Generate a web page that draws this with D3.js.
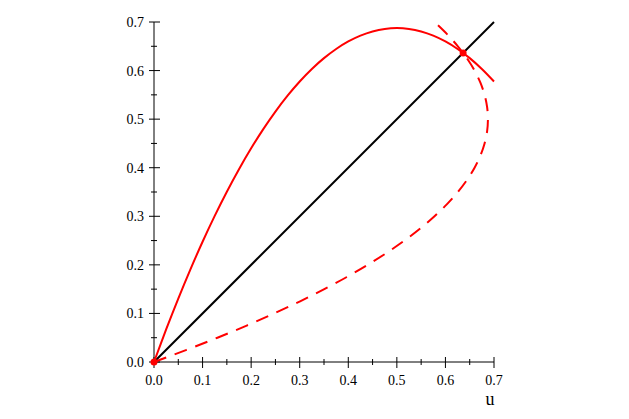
<!DOCTYPE html>
<html><head><meta charset="utf-8">
<script src="https://cdn.jsdelivr.net/npm/d3@7"></script>
<style>body{margin:0;background:#fff}svg{display:block}</style>
</head><body>
<script>
const uValues = [0,0.025,0.05,0.075,0.1,0.125,0.15,0.175,0.2,0.225,0.25,0.275,0.3,0.325,0.35,0.375,0.4,0.425,0.45,0.475,0.5,0.525,0.55,0.575,0.6,0.625,0.65,0.675,0.7];
const fValues = [0,0.0670,0.1306,0.1908,0.2475,0.3008,0.3506,0.3970,0.44,0.4795,0.5156,0.5483,0.5775,0.6033,0.6256,0.6445,0.66,0.6720,0.6806,0.6858,0.6875,0.6858,0.6806,0.6720,0.66,0.6445,0.6256,0.6033,0.5775];
const diagonal = [[0,0],[0.7,0.7]];
const fixedPoints = [[0,0],[0.6364,0.6364]];
const xTicks = [0,0.1,0.2,0.3,0.4,0.5,0.6,0.7];
const yTicks = [0,0.1,0.2,0.3,0.4,0.5,0.6,0.7];
const minorTicks = [0.05,0.15,0.25,0.35,0.45,0.55,0.65];
const xLabel = "u";

const W=629,H=419;
const svg=d3.select("body").append("svg").attr("width",W).attr("height",H);
const x=d3.scaleLinear().domain([0,0.7]).range([154,494]);
const y=d3.scaleLinear().domain([0,0.7]).range([362,22]);
const font="'Liberation Serif','Times New Roman',serif";

// axes lines
svg.append("line").attr("x1",x(0)).attr("x2",x(0.7)).attr("y1",y(0)).attr("y2",y(0)).attr("stroke","#000").attr("stroke-width",1);
svg.append("line").attr("x1",x(0)).attr("x2",x(0)).attr("y1",y(0)).attr("y2",y(0.7)).attr("stroke","#000").attr("stroke-width",1);

// ticks
xTicks.forEach(t=>{
  svg.append("line").attr("x1",x(t)).attr("x2",x(t)).attr("y1",y(0)-5).attr("y2",y(0)+6).attr("stroke","#000");
  svg.append("text").attr("x",x(t)).attr("y",y(0)+23).attr("text-anchor","middle").attr("font-family",font).attr("font-size",14).text(t.toFixed(1));
});
yTicks.forEach(t=>{
  svg.append("line").attr("x1",x(0)-5).attr("x2",x(0)+6).attr("y1",y(t)).attr("y2",y(t)).attr("stroke","#000");
  svg.append("text").attr("x",x(0)-10).attr("y",y(t)+5).attr("text-anchor","end").attr("font-family",font).attr("font-size",14).text(t.toFixed(1));
});
minorTicks.forEach(t=>{
  svg.append("line").attr("x1",x(t)).attr("x2",x(t)).attr("y1",y(0)-3).attr("y2",y(0)+3).attr("stroke","#000");
  svg.append("line").attr("x1",x(0)-3).attr("x2",x(0)+3).attr("y1",y(t)).attr("y2",y(t)).attr("stroke","#000");
});
svg.append("text").attr("x",x(0.7)-4).attr("y",y(0)+43).attr("text-anchor","middle").attr("font-family",font).attr("font-size",18).text(xLabel);

// diagonal
const line=d3.line().x(d=>x(d[0])).y(d=>y(d[1]));
svg.append("path").attr("d",line(diagonal)).attr("stroke","#000").attr("stroke-width",2).attr("fill","none");

const curve=d3.line().x(d=>x(d[0])).y(d=>y(d[1])).curve(d3.curveCatmullRom);
const fPts=uValues.map((u,i)=>[u,fValues[i]]);
const invPts=uValues.map((u,i)=>[fValues[i],u]);
svg.append("path").attr("d",curve(fPts)).attr("stroke","#ff0000").attr("stroke-width",2).attr("fill","none");
svg.append("path").attr("d",curve(invPts)).attr("stroke","#ff0000").attr("stroke-width",2).attr("fill","none").attr("stroke-dasharray","13,9");

svg.selectAll("circle.fp").data(fixedPoints).enter().append("circle")
  .attr("cx",d=>x(d[0])).attr("cy",d=>y(d[1])).attr("r",3.5).attr("fill","#ff0000");
</script>
</body></html>
